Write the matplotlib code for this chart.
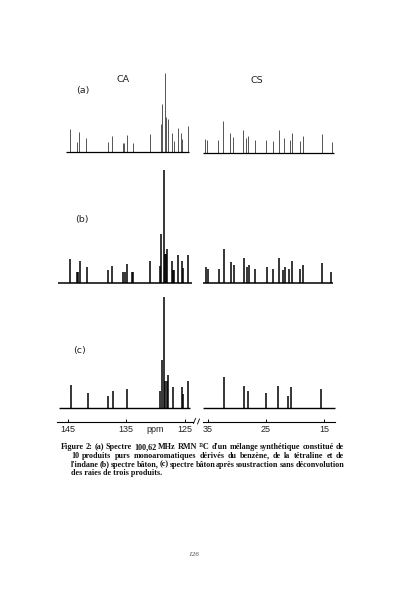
import matplotlib
matplotlib.use("Agg")
import matplotlib.pyplot as plt
from matplotlib.lines import Line2D

W, H = 396, 599
fig = plt.figure(figsize=(W / 100, H / 100), dpi=100)
fig.patch.set_facecolor("white")

# ---------------- data (ppm, relative intensity) ----------------
a_ca_ppm = [144.63, 143.43, 143.04, 141.90, 138.16, 137.48, 135.60, 135.38, 134.87, 133.85,
            130.96, 129.14, 128.97, 128.40, 128.18, 127.89, 127.21, 126.82, 126.14, 125.63,
            125.46, 124.49]
a_ca_int = [23, 10, 20, 14, 10, 16, 9, 9, 17, 9, 18, 28, 48, 79, 35, 33, 19, 11, 24, 19, 13, 26]

a_cs_ppm = [35.52, 35.12, 33.23, 32.32, 31.17, 30.65, 28.88, 28.42, 28.02, 26.92,
            24.98, 23.78, 22.80, 21.89, 20.91, 20.57, 19.14, 18.57, 15.36, 13.64]
a_cs_int = [14, 13, 13, 32, 20, 16, 23, 15, 17, 13, 13, 12, 23, 15, 13, 20, 12, 17, 19, 11]

b_ca_ppm = [144.57, 143.35, 143.15, 142.92, 141.68, 138.11, 137.37, 135.50, 135.30, 134.87,
            134.10, 133.90, 130.96, 129.31, 129.09, 128.57, 128.35, 128.20, 128.01, 127.21,
            127.00, 126.82, 126.14, 125.56, 125.34, 124.54]
b_ca_int = [24, 11, 11, 22, 16, 13, 17, 11, 11, 19, 11, 11, 22, 17, 49, 113, 29, 29, 34, 22,
            13, 13, 28, 22, 15, 28]

b_cs_ppm = [35.29, 34.90, 33.06, 32.25, 31.05, 30.48, 28.71, 28.20, 27.96, 26.87, 24.86,
            23.83, 22.80, 22.01, 21.77, 20.98, 20.46, 19.19, 18.67, 15.41, 13.87]
b_cs_int = [16, 14, 14, 34, 21, 18, 25, 16, 18, 14, 16, 14, 25, 13, 16, 14, 22, 14, 18, 20, 11]

c_ca_ppm = [144.46, 141.56, 138.06, 137.31, 134.82, 129.26, 128.97, 128.52, 128.35, 128.11,
            127.89, 127.09, 125.56, 125.29, 124.49]
c_ca_int = [23, 15, 12, 17, 19, 17, 48, 111, 27, 27, 33, 21, 21, 14, 27]

c_cs_ppm = [32.20, 28.71, 28.02, 24.98, 22.97, 21.15, 20.64, 15.58]
c_cs_int = [31, 22, 17, 15, 22, 12, 21, 19]

ca_ticks = [145, 135, 125]
cs_ticks = [35, 25, 15]
panel_labels = ["(a)", "(b)", "(c)"]
region_labels = ["CA", "CS"]
caption_lines = [
    "Figure 2: (a) Spectre 100,62 MHz RMN \u00b9\u00b3C d'un m\u00e9lange synth\u00e9tique constitu\u00e9 de",
    "10 produits purs monoaromatiques d\u00e9riv\u00e9s du benz\u00e8ne, de la t\u00e9traline et de",
    "l'indane (b) spectre b\u00e2ton, (c) spectre b\u00e2ton apr\u00e8s soustraction sans d\u00e9convolution",
    "des raies de trois produits.",
]
page_number = "126"

# ---------------- layout helpers ----------------
def px_axes(x0, y0, x1, y1):
    ax = fig.add_axes([x0 / W, 1 - y1 / H, (x1 - x0) / W, (y1 - y0) / H])
    ax.set_facecolor("none")
    return ax

CA_LIM = (146.79, 123.64)
CS_LIM = (35.98, 12.78)
CA_X = (57, 193)
CS_X = (202, 337)

def clean(ax):
    for s in ax.spines.values():
        s.set_visible(False)
    ax.set_xticks([])
    ax.set_yticks([])

def stick_panel(ax, ppm, inten, xlim, ylim, lw, color, base_rng=None, base_lw=1.0):
    ax.set_xlim(*xlim)
    ax.set_ylim(*ylim)
    clean(ax)
    ax.vlines(ppm, 0, inten, colors=color, linewidth=lw)
    if base_rng is None:
        base_rng = xlim
    ax.hlines(0, base_rng[0], base_rng[1], colors="black", linewidth=base_lw)

# (a) experimental spectrum
ax = px_axes(CA_X[0], 65, CA_X[1], 155)
stick_panel(ax, a_ca_ppm, a_ca_int, CA_LIM, (-3, 87), 0.6, "#3a3a3a", (145.2, 124.4), 0.9)
ax = px_axes(CS_X[0], 65, CS_X[1], 156)
stick_panel(ax, a_cs_ppm, a_cs_int, CS_LIM, (-3, 88), 0.6, "#3a3a3a", (35.8, 13.3), 0.9)

# (b) stick spectrum
ax = px_axes(CA_X[0], 163, CA_X[1], 286)
stick_panel(ax, b_ca_ppm, b_ca_int, CA_LIM, (-3, 120), 1.1, "black", (146.6, 123.8), 1.1)
ax = px_axes(CS_X[0], 163, CS_X[1], 286)
stick_panel(ax, b_cs_ppm, b_cs_int, CS_LIM, (-3, 120), 1.1, "black", (35.8, 13.5), 1.1)

# (c) stick spectrum after subtraction
ax = px_axes(CA_X[0], 292, CA_X[1], 411)
stick_panel(ax, c_ca_ppm, c_ca_int, CA_LIM, (-3, 116), 1.1, "black", (146.5, 124.2), 1.0)
ax = px_axes(CS_X[0], 292, CS_X[1], 411)
stick_panel(ax, c_cs_ppm, c_cs_int, CS_LIM, (-3, 116), 1.1, "black", (35.8, 13.2), 1.0)

# ---------------- ppm axes ----------------
def ppm_axis(x0, x1, xlim, ticks):
    ax = px_axes(x0, 405, x1, 421.7)
    ax.set_xlim(*xlim)
    ax.set_ylim(0, 1)
    for k, s in ax.spines.items():
        s.set_visible(k == "bottom")
    ax.spines["bottom"].set_linewidth(0.8)
    ax.set_yticks([])
    ax.set_xticks(ticks)
    ax.set_xticklabels([str(t) for t in ticks])
    ax.tick_params(axis="x", direction="in", length=2.5, width=0.7, pad=2.5,
                   labelsize=6.5, labelcolor="#222222")
    for lab in ax.get_xticklabels():
        lab.set_family("Liberation Sans")
    return ax

axl = ppm_axis(CA_X[0], CA_X[1], CA_LIM, ca_ticks)
axr = ppm_axis(CS_X[0] + 1, CS_X[1] - 2, (CS_LIM[0] - 0.17, CS_LIM[1] + 0.34), cs_ticks)
axl.text(130.1, -0.22, "ppm", transform=axl.get_xaxis_transform(), ha="center", va="top",
         fontsize=6.5, family="Liberation Sans", color="#222222")

def fig_line(xs, ys, lw=0.6):
    fig.add_artist(Line2D([x / W for x in xs], [1 - y / H for y in ys],
                          transform=fig.transFigure, color="black", linewidth=lw))

fig_line([193.5, 195.5], [423.5, 418.5])
fig_line([197.5, 199.5], [424, 419])

# ---------------- labels ----------------
lab_kw = dict(fontsize=6.8, family="DejaVu Sans", color="#222222", ha="center", va="center")
fig.text(83.3 / W, 1 - 90 / H, panel_labels[0], **lab_kw)
fig.text(81.7 / W, 1 - 219.3 / H, panel_labels[1], **lab_kw)
fig.text(80 / W, 1 - 350.7 / H, panel_labels[2], **lab_kw)
fig.text(122.7 / W, 1 - 80 / H, region_labels[0], **lab_kw)
fig.text(256.7 / W, 1 - 80.7 / H, region_labels[1], **lab_kw)

# ---------------- caption (justified) ----------------
cap_kw = dict(fontsize=5.9, family="Liberation Serif", weight="bold", color="#111111",
              va="baseline")
renderer = fig.canvas.get_renderer()

def justified(line, x0, x1, y):
    words = line.split(" ")
    texts = [fig.text(0, 1 - y / H, w, **cap_kw) for w in words]
    widths = [t.get_window_extent(renderer).width for t in texts]
    gap = (x1 - x0 - sum(widths)) / (len(words) - 1)
    x = x0
    for t, wd in zip(texts, widths):
        t.set_x(x / W)
        x += wd + gap

justified(caption_lines[0], 60.5, 344, 449)
justified(caption_lines[1], 71, 344, 457.8)
justified(caption_lines[2], 71, 344, 466.6)
fig.text(71 / W, 1 - 475.4 / H, caption_lines[3], **cap_kw)

fig.text(194 / W, 1 - 554 / H, page_number, fontsize=5.2, family="Liberation Serif",
         style="italic", color="#444444", ha="center", va="center")

fig.savefig("out.png", dpi=100, facecolor="white")
